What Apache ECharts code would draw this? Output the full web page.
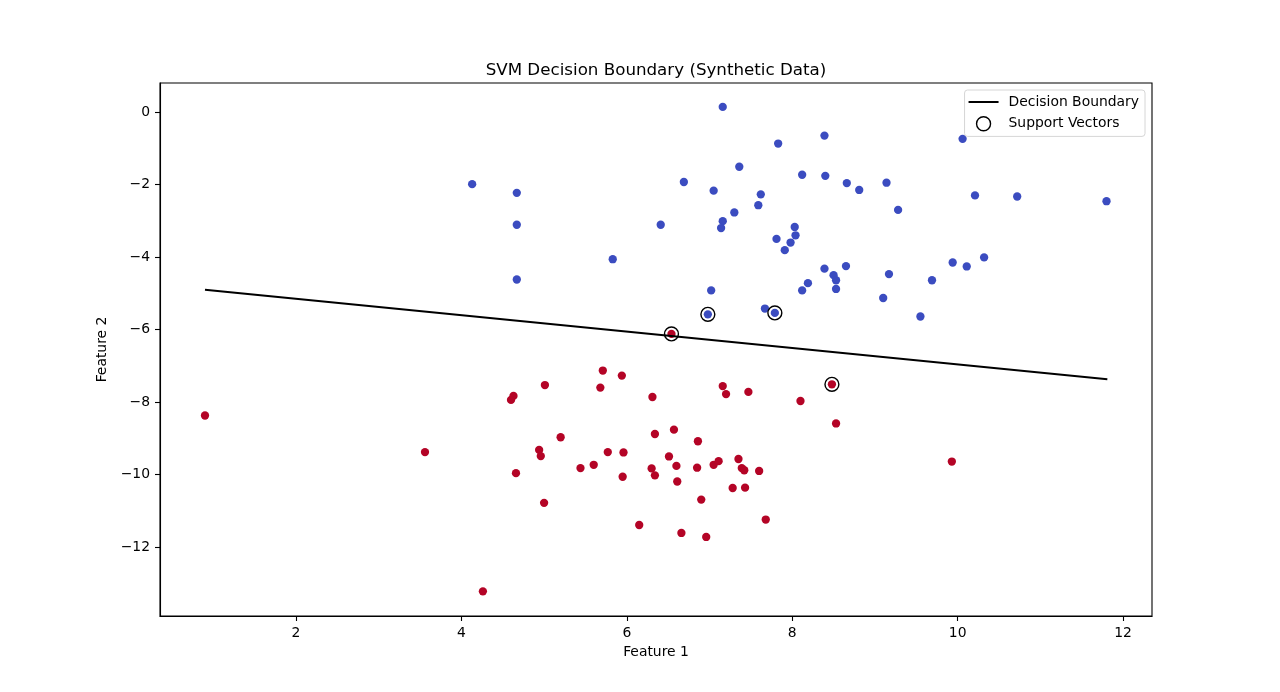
<!DOCTYPE html>
<html lang="en">
<head>
<meta charset="UTF-8">
<title>SVM Decision Boundary</title>
<script src="https://cdn.jsdelivr.net/npm/echarts@6/dist/echarts.min.js"></script>
<style>
    * { padding: 0; margin: 0; }
    html, body { background: #fff; }
    #chart { width: 1280px; height: 692px; }
</style>
</head>
<body>
<div id="chart"></div>
<script>
    // class 0 (blue) points
    const blueX = [4.13, 4.67, 4.67, 5.83, 4.67, 6.41, 7.16, 8.39, 7.83, 10.06, 7.36, 6.69, 7.05, 8.12, 8.40, 8.66, 8.81, 9.14, 10.21, 10.72,
        11.80, 7.62, 7.59, 7.30, 7.16, 7.14, 9.28, 8.03, 8.04, 7.81, 7.98, 7.91, 10.32, 9.94, 10.11, 8.39, 8.65, 9.17, 8.50, 8.53,
        8.19, 9.69, 8.12, 8.53, 7.02, 9.10, 9.55, 7.67, 6.98, 7.79];
    const blueY = [-1.99, -2.23, -3.11, -4.06, -4.62, -3.11, 0.14, -0.65, -0.87, -0.74, -1.51, -1.93, -2.17, -1.73, -1.76, -1.96, -2.15, -1.95, -2.30, -2.33,
        -2.46, -2.27, -2.57, -2.77, -3.01, -3.20, -2.70, -3.17, -3.40, -3.50, -3.60, -3.81, -4.01, -4.15, -4.26, -4.32, -4.25, -4.47, -4.50, -4.64,
        -4.72, -4.64, -4.92, -4.88, -4.92, -5.13, -5.64, -5.42, -5.58, -5.54];
    // class 1 (red) points
    const redX = [0.90, 3.56, 4.26, 4.60, 4.63, 5.01, 4.66, 4.94, 4.96, 5.20, 5.00, 5.71, 5.94, 5.68, 6.31, 6.34, 5.77, 5.96, 5.44, 5.60,
        5.95, 6.30, 6.34, 6.15, 7.16, 7.20, 7.47, 8.10, 8.48, 8.53, 6.57, 6.86, 6.51, 6.60, 6.85, 7.05, 7.11, 7.35, 7.39, 7.42,
        7.60, 6.61, 7.28, 7.43, 6.90, 7.68, 6.66, 6.96, 9.93, 6.54];
    const redY = [-8.37, -9.38, -13.22, -7.94, -7.83, -7.53, -9.96, -9.32, -9.49, -8.97, -10.78, -7.13, -7.27, -7.60, -7.86, -8.88, -9.38, -9.39, -9.82, -9.73,
        -10.06, -9.83, -10.02, -11.39, -7.56, -7.78, -7.72, -7.97, -7.51, -8.59, -8.76, -9.08, -9.50, -9.76, -9.81, -9.73, -9.63, -9.57, -9.82, -9.88,
        -9.90, -10.19, -10.37, -10.36, -10.69, -11.24, -11.61, -11.72, -9.64, -6.12];
    // support vectors
    const svX = [6.54, 6.98, 7.79, 8.48];
    const svY = [-6.12, -5.58, -5.54, -7.51];
    // decision boundary end points
    const boundaryX = [0.90, 11.81];
    const boundaryY = [-4.90, -7.37];

    const xTicks = [2, 4, 6, 8, 10, 12];
    const yTicks = [-12, -10, -8, -6, -4, -2, 0];

    const zip = (xs, ys) => xs.map((x, i) => [x, ys[i]]);
    const fmt = v => (v < 0 ? '\u2212' + Math.abs(v) : String(v));
    const font = 'DejaVu Sans';

    const chart = echarts.init(document.getElementById('chart'));
    const option = {
        animation: false,
        backgroundColor: '#fff',
        textStyle: { fontFamily: font },
        title: {
            text: 'SVM Decision Boundary (Synthetic Data)',
            left: 656,
            textAlign: 'center',
            top: 62,
            padding: 0,
            textStyle: { fontFamily: font, fontSize: 16.7, fontWeight: 'normal', color: '#000' }
        },
        legend: {
            orient: 'vertical',
            right: 135,
            top: 90,
            padding: [5, 6, 5, 4],
            itemWidth: 30,
            itemHeight: 14,
            itemGap: 7,
            backgroundColor: '#fff',
            borderColor: '#d6d6d6',
            borderWidth: 1,
            borderRadius: 3,
            textStyle: { fontFamily: font, fontSize: 13.9, color: '#000', padding: [0, 0, 0, 5] },
            data: [
                { name: 'Decision Boundary', icon: 'path://M0,0H30V2H0Z' },
                {
                    name: 'Support Vectors', icon: 'circle',
                    itemStyle: { color: 'rgba(0,0,0,0)', borderColor: '#000', borderWidth: 1.4 }
                }
            ]
        },
        grid: { left: 160, right: 128, top: 83, bottom: 76, show: true, borderColor: '#000', borderWidth: 1.1 },
        xAxis: {
            type: 'value',
            min: 0.356,
            max: 12.35,
            name: 'Feature 1',
            nameLocation: 'middle',
            nameGap: 28,
            nameTextStyle: { fontFamily: font, fontSize: 13.9, color: '#000' },
            axisLine: { show: true, onZero: false, lineStyle: { color: '#000', width: 1.1 } },
            axisTick: { show: true, length: 5, customValues: xTicks, lineStyle: { color: '#000', width: 1.1 } },
            axisLabel: { customValues: xTicks, margin: 10, fontFamily: font, fontSize: 13.9, color: '#000', formatter: fmt },
            splitLine: { show: false }
        },
        yAxis: {
            type: 'value',
            min: -13.90,
            max: 0.80,
            name: 'Feature 2',
            nameLocation: 'middle',
            nameGap: 44,
            nameTextStyle: { fontFamily: font, fontSize: 13.9, color: '#000' },
            axisLine: { show: true, onZero: false, lineStyle: { color: '#000', width: 1.1 } },
            axisTick: { show: true, length: 5, customValues: yTicks, lineStyle: { color: '#000', width: 1.1 } },
            axisLabel: { customValues: yTicks, margin: 10, fontFamily: font, fontSize: 13.9, color: '#000', formatter: fmt },
            splitLine: { show: false }
        },
        series: [
            {
                name: 'class0',
                type: 'scatter',
                symbolSize: 8.3,
                itemStyle: { color: '#3b4cc0', opacity: 1 },
                data: zip(blueX, blueY)
            },
            {
                name: 'class1',
                type: 'scatter',
                symbolSize: 8.3,
                itemStyle: { color: '#b40426', opacity: 1 },
                data: zip(redX, redY)
            },
            {
                name: 'Decision Boundary',
                type: 'line',
                symbol: 'none',
                lineStyle: { color: '#000', width: 2.1 },
                itemStyle: { color: '#000' },
                data: zip(boundaryX, boundaryY)
            },
            {
                name: 'Support Vectors',
                type: 'scatter',
                symbolSize: 13.9,
                itemStyle: { color: 'rgba(0,0,0,0)', borderColor: '#000', borderWidth: 1.4, opacity: 1 },
                data: zip(svX, svY)
            }
        ]
    };
    chart.setOption(option);
</script>
</body>
</html>
